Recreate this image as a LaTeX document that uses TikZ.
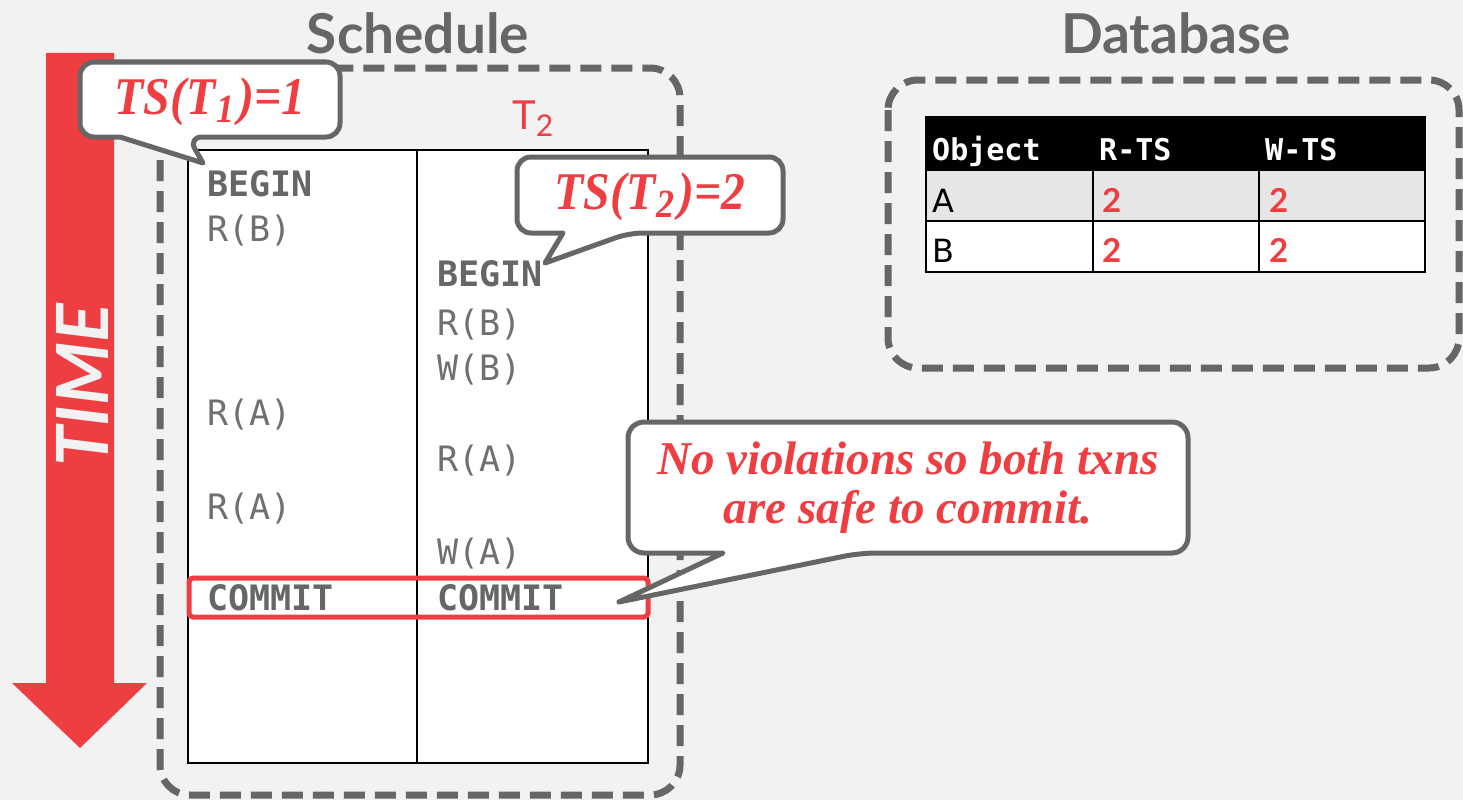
\documentclass[tikz,border=0pt]{standalone}
\usepackage{fontspec}
\setmainfont{Lato}
\newfontfamily\monof{DejaVu Sans Mono}
\newfontfamily\serifbi{Liberation Serif}
\newfontfamily\dejasans{DejaVu Sans}
\definecolor{myred}{RGB}{239,62,66}
\definecolor{mygray}{RGB}{102,102,102}
\definecolor{opgray}{RGB}{112,112,112}
\definecolor{bgc}{RGB}{242,242,242}
\definecolor{rowgray}{RGB}{230,230,230}
\newcommand{\cs}[1]{\kern1pt\raisebox{-8pt}{\fontsize{40}{40}\selectfont #1}\kern5pt}
\begin{document}
\begin{tikzpicture}[x=1pt,y=-1pt,
  dashbox/.style={draw=mygray, line width=7, dash pattern=on 21 off 10, rounded corners=30},
  callout/.style={draw=mygray, fill=white, line width=5, line join=round},
  title/.style={text=mygray, font=\fontsize{55}{60}\selectfont\bfseries, inner sep=0},
  op/.style={anchor=base west, text=opgray, font=\fontsize{35}{40}\selectfont\monof, inner sep=0},
  opb/.style={anchor=base west, text=mygray, font=\fontsize{35}{40}\selectfont\monof\bfseries, inner sep=0},
  note/.style={text=myred, font=\fontsize{53}{56}\selectfont\serifbi\bfseries\itshape, inner sep=0, align=center},
  msgst/.style={text=myred, font=\fontsize{47}{49}\selectfont\serifbi\bfseries\itshape, inner sep=0, align=center},
  hdr/.style={anchor=base west, text=white, font=\fontsize{30}{34}\selectfont\monof\bfseries, inner sep=0},
  cell/.style={anchor=base west, text=black, font=\fontsize{32}{34}\selectfont\dejasans, inner sep=0},
  num/.style={anchor=base west, text=myred, font=\fontsize{33}{34}\selectfont\bfseries, inner sep=0}
]
\useasboundingbox (0,0) rectangle (1463,800);
\fill[bgc] (0,0) rectangle (1463,800);

% titles
\node[title] (sched) at (418,33) {Schedule};
\node[title] (db) at (1176,33) {Database};

% dashed boxes
\draw[dashbox] (160,68) rectangle (680,795);
\draw[dashbox] (888,80) rectangle (1459,368);

% schedule table
\draw[black, line width=1.5, fill=white] (188,150) rectangle (648,763);
\draw[black, line width=1.5] (417,150) -- (417,763);
\node[anchor=base west, text=myred, font=\fontsize{40}{44}\selectfont, inner sep=0] (t2) at (512,129) {T\raisebox{-7pt}{\fontsize{30}{30}\selectfont 2}};

\node[opb] (b1) at (207,196) {BEGIN};
\node[op]  (rb1) at (207,241) {R(B)};
\node[opb] (b2) at (437,286) {BEGIN};
\node[op]  (rb2) at (437,335) {R(B)};
\node[op]  (wb2) at (437,380) {W(B)};
\node[op]  (ra1) at (207,425) {R(A)};
\node[op]  (ra2) at (437,471) {R(A)};
\node[op]  (ra3) at (207,519) {R(A)};
\node[op]  (wa2) at (437,564) {W(A)};
\node[opb] (c1) at (207,610) {COMMIT};
\node[opb] (c2) at (437,610) {COMMIT};
\draw[myred, line width=5, rounded corners=4] (189,578) rectangle (648,617);

% database table
\fill[black] (926,117) rectangle (1425,170);
\fill[rowgray] (926,170) rectangle (1425,221);
\fill[white] (926,221) rectangle (1425,272);
\draw[black, line width=2.5] (926,117) rectangle (1425,272);
\draw[black, line width=2.5] (926,170) -- (1425,170);
\draw[black, line width=2.5] (926,221) -- (1425,221);
\draw[black, line width=2.5] (1093,117) -- (1093,272);
\draw[black, line width=2.5] (1259,117) -- (1259,272);
\node[hdr] (h1) at (932,160) {Object};
\node[hdr] (h2) at (1099,160) {R-TS};
\node[hdr] (h3) at (1265,160) {W-TS};
\node[cell] (ca) at (932,212) {A};
\node[num] (ra) at (1102,212) {2};
\node[num] (wa) at (1269,212) {2};
\node[cell] (cb) at (932,262) {B};
\node[num] (rbn) at (1102,262) {2};
\node[num] (wbn) at (1269,262) {2};

% time arrow
\fill[myred] (46,53) -- (114,53) -- (114,683) -- (147,683) -- (80,748) -- (12,683) -- (46,683) -- cycle;
\node[rotate=90, text=bgc, font=\fontsize{72}{72}\selectfont\bfseries\itshape, inner sep=0] (time) at (82,385) {TIME};

% callouts
\draw[callout, rounded corners=14] (120,137) -- (80,137) -- (80,62) -- (340,62) -- (340,137) -- (188,137) [sharp corners] -- (203,163) -- cycle;
\node[note] (ts1) at (210,102) {\scalebox{0.9}[1]{TS(T\cs{1})=1}};

\draw[callout, rounded corners=14] (563,233) -- (517,233) -- (517,157) -- (783,157) -- (783,233) -- (629,233) [sharp corners] -- (545,263) -- cycle;
\node[note] (ts2) at (650,197) {\scalebox{0.9}[1]{TS(T\cs{2})=2}};

\draw[callout, rounded corners=16] (723,553) -- (628,553) -- (628,422) -- (1188,422) -- (1188,553) -- (860,553) [sharp corners] -- (619,602) -- cycle;
\node[msgst] (msg) at (908,488) {No violations so both txns\\are safe to commit.};
\end{tikzpicture}
\end{document}
